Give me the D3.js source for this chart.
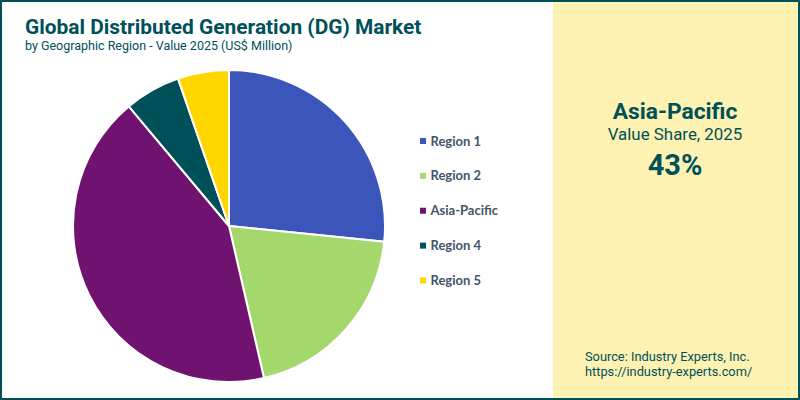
<!DOCTYPE html>
<html>
<head>
<meta charset="utf-8">
<script src="https://cdnjs.cloudflare.com/ajax/libs/d3/7.8.5/d3.min.js"></script>
<style>
    html, body { margin: 0; padding: 0; background: #fff; }
    svg { display: block; }
    text { font-family: Roboto, sans-serif; fill: #00505a; }
</style>
</head>
<body>
<div id="chart"></div>
<script>
var regions = ['Region 1', 'Region 2', 'Asia-Pacific', 'Region 4', 'Region 5'];
var shares = [26.6, 19.8, 42.5, 5.8, 5.3];
var colors = ['#3b55bb', '#a5d86c', '#70126f', '#00505a', '#ffd600'];

var width = 800;
var height = 400;
var darkTeal = '#00505a';

var svg = d3.select('#chart').append('svg')
    .attr('width', width)
    .attr('height', height);

// right hand panel
svg.append('rect')
    .attr('x', 553)
    .attr('y', 0)
    .attr('width', width - 553)
    .attr('height', height)
    .style('fill', '#fdf2b2');

// outer border
svg.append('rect')
    .attr('x', 1)
    .attr('y', 1)
    .attr('width', width - 2)
    .attr('height', height - 2)
    .style('fill', 'none')
    .style('stroke', darkTeal)
    .style('stroke-width', 2);

svg.append('text')
    .attr('x', 25)
    .attr('y', 34)
    .style('font-size', '20.9px')
    .style('font-weight', 700)
    .text('Global Distributed Generation (DG) Market');

svg.append('text')
    .attr('x', 25)
    .attr('y', 50)
    .style('font-size', '12.5px')
    .text('by Geographic Region - Value 2025 (US$ Million)');

// pie
var pie = d3.pie().sort(null);
var arc = d3.arc().innerRadius(0).outerRadius(156);

var pieGroup = svg.append('g')
    .attr('transform', 'translate(229,226)');

pieGroup.selectAll('path')
    .data(pie(shares))
    .enter()
    .append('path')
    .attr('d', arc)
    .style('fill', function(d, i) { return colors[i]; })
    .style('stroke', '#fff')
    .style('stroke-width', 2);

// legend
var legendY = d3.scalePoint()
    .domain(regions)
    .range([141, 280.5]);

var legend = svg.selectAll('.legend')
    .data(regions)
    .enter()
    .append('g')
    .attr('class', 'legend')
    .attr('transform', function(d) { return 'translate(420,' + legendY(d) + ')'; });

legend.append('rect')
    .attr('x', 0)
    .attr('y', -3)
    .attr('width', 6)
    .attr('height', 6)
    .style('fill', function(d, i) { return colors[i]; });

legend.append('text')
    .attr('x', 10.5)
    .attr('y', 4.5)
    .style('font-family', 'Lato, sans-serif')
    .style('font-size', '13px')
    .style('font-weight', 700)
    .style('fill', '#44546a')
    .text(function(d) { return d; });

// panel text
var panelX = 675;

svg.append('text')
    .attr('x', panelX)
    .attr('y', 119)
    .attr('text-anchor', 'middle')
    .style('font-size', '22.8px')
    .style('font-weight', 700)
    .text('Asia-Pacific');

svg.append('text')
    .attr('x', panelX)
    .attr('y', 140)
    .attr('text-anchor', 'middle')
    .style('font-size', '16.9px')
    .text('Value Share, 2025');

svg.append('text')
    .attr('x', panelX)
    .attr('y', 175)
    .attr('text-anchor', 'middle')
    .style('font-size', '29px')
    .style('font-weight', 700)
    .text('43%');

svg.append('text')
    .attr('x', 585)
    .attr('y', 361)
    .style('font-size', '12.8px')
    .text('Source: Industry Experts, Inc.');

svg.append('text')
    .attr('x', 585)
    .attr('y', 376)
    .style('font-size', '12.8px')
    .text('https://industry-experts.com/');
</script>
</body>
</html>
